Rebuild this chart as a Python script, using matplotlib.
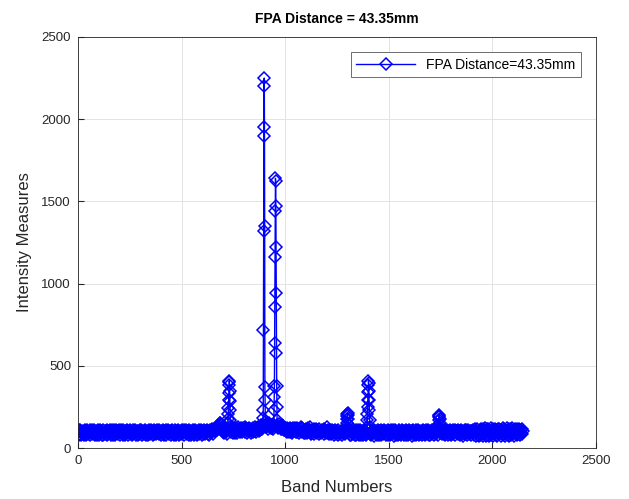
import numpy as np
import matplotlib
matplotlib.use("Agg")
import matplotlib.pyplot as plt

plt.rcParams['font.family'] = ['Liberation Sans', 'DejaVu Sans']

# baseline readings, one every 3 bands from band 0 up
base_step = 3
base_0_645 = [96, 112, 80, 101, 110, 78, 94, 107, 85, 103, 79, 109,
              92, 77, 104, 111, 84, 99, 90, 108, 78, 97, 112, 83,
              102, 88, 113, 93, 80, 106, 100, 82, 110, 77, 96, 111,
              89, 105, 81, 100, 109, 79, 93, 107, 86, 103, 78, 113,
              97, 84, 105, 90, 110, 80, 99, 112, 82, 95, 108, 87,
              77, 111, 92, 104, 83, 106, 113, 79, 96, 109, 89, 101,
              78, 112, 86, 107, 81, 103, 92, 110, 80, 97, 105, 84,
              113, 90, 100, 78, 109, 87, 104, 93, 111, 82, 96, 107,
              77, 105, 89, 112, 84, 99, 109, 80, 93, 103, 86, 113,
              97, 81, 107, 90, 105, 78, 111, 100, 83, 96, 109, 92,
              103, 79, 112, 87, 106, 97, 83, 108, 90, 101, 85, 110,
              94, 79, 106, 99, 88, 112, 81, 102, 95, 108, 77, 104,
              91, 113, 84, 98, 107, 80, 103, 93, 111, 86, 100, 78,
              109, 95, 82, 106, 90, 113, 79, 101, 88, 104, 97, 111,
              83, 99, 108, 77, 105, 92, 110, 85, 96, 102, 80, 112,
              89, 107, 78, 100, 94, 109, 82, 103, 111, 87, 98, 79,
              106, 91, 113, 84, 101, 96, 108, 80, 104, 88, 110, 93,
              99, 83, 107, 95, 112, 86, 102, 78, 109, 97, 105, 114]
base_648_696 = [96, 110, 88, 108, 115, 102, 120, 112, 125, 130, 136, 142,
                150, 154, 138, 120, 110]
base_699_876 = [100, 118, 92, 110, 122, 95, 112, 88, 120, 104, 93, 115,
                124, 97, 108, 121, 90, 113, 101, 119, 94, 123, 107, 91,
                116, 126, 102, 118, 96, 111, 122, 99, 115, 125, 109, 127,
                98, 114, 120, 92, 117, 105, 124, 101, 111, 89, 119, 106,
                123, 95, 113, 128, 103, 117, 99, 121, 110, 126, 104, 118]
base_879_999 = [112, 128, 138, 118, 140, 125, 146, 132, 120, 143, 127, 150,
                133, 119, 147, 155, 131, 124, 142, 122, 136, 115, 128, 112,
                124, 139, 117, 145, 130, 121, 148, 126, 137, 114, 129, 141,
                118, 133, 110, 125, 120]
base_1002_1299 = [118, 104, 124, 100, 117, 96, 112, 122, 98, 116,
                  107, 94, 120, 101, 111, 123, 95, 114, 99, 121,
                  108, 93, 119, 102, 126, 115, 97, 121, 105, 94,
                  112, 90, 103, 118, 91, 106, 120, 98, 110, 130,
                  100, 87, 108, 93, 112, 88, 116, 104, 96, 119,
                  92, 109, 101, 85, 114, 97, 107, 89, 111, 95,
                  103, 118, 86, 99, 110, 91, 105, 128, 94, 113,
                  88, 102, 108, 84, 97, 112, 90, 106, 82, 100,
                  109, 87, 95, 104, 80, 111, 93, 99, 85, 107,
                  96, 82, 103, 90, 110, 86, 98, 105, 81, 94]
base_1302_2148 = [102, 84, 110, 80, 96, 108, 78, 100, 88, 107, 94, 81,
                  103, 112, 77, 98, 86, 109, 82, 101, 113, 79, 95, 106,
                  77, 97, 111, 83, 104, 91, 80, 109, 96, 78, 102, 112,
                  87, 99, 79, 106, 92, 104, 76, 111, 95, 84, 107, 81,
                  98, 110, 78, 101, 89, 113, 80, 96, 105, 85, 110, 92,
                  99, 77, 107, 88, 109, 82, 101, 94, 78, 112, 84, 104,
                  91, 108, 76, 98, 111, 82, 106, 88, 95, 80, 103, 113,
                  85, 99, 78, 109, 91, 102, 81, 107, 96, 77, 112, 87,
                  104, 80, 98, 110, 84, 95, 106, 76, 101, 113, 82, 99,
                  90, 108, 79, 104, 88, 111, 80, 102, 94, 85, 107, 77,
                  98, 112, 83, 104, 91, 78, 109, 96, 86, 111, 79, 100,
                  106, 82, 97, 113, 88, 101, 77, 108, 93, 110, 84, 99,
                  112, 80, 95, 105, 78, 103, 90, 109, 83, 97, 111, 86,
                  100, 79, 107, 94, 113, 81, 98, 104, 87, 110, 77, 102,
                  92, 108, 85, 99, 112, 78, 105, 89, 101, 83, 109, 96,
                  80, 103, 111, 88, 97, 76, 106, 93, 113, 84, 100, 108,
                  79, 95, 110, 86, 102, 91, 107, 77, 104, 98, 112, 82,
                  99, 116, 74, 106, 118, 80, 99, 72, 112, 90, 119, 77,
                  102, 115, 73, 108, 86, 120, 75, 103, 114, 82, 117, 72,
                  106, 94, 121, 78, 110, 74, 116, 88, 104, 118, 80, 112,
                  73, 115, 97, 119, 84, 108, 76, 113, 92, 120, 79, 105,
                  117, 74, 101, 88, 122, 81, 110, 71, 114, 95, 118, 78,
                  107, 121, 85, 99, 73, 116, 90, 112, 77, 119, 83, 104,
                  115, 79, 110, 92, 118, 86, 106]

# peaks: first band and the readings that follow band by band
peak_starts = [723, 892, 945, 1296, 1395, 1739]
peak_values = [
    [150, 175, 205, 245, 290, 335, 385, 410, 400, 350, 285, 230, 170, 130],
    [130, 180, 230, 720, 1320, 1900, 2200, 2250, 1950, 1350, 370, 290, 160, 130],
    [140, 230, 310, 380, 640, 860, 1160, 1440, 1640, 1625, 1470, 1220, 940,
     580, 380, 250, 170, 140],
    [120, 150, 175, 195, 210, 215, 200, 175, 145, 120],
    [130, 170, 210, 250, 295, 340, 385, 410, 395, 345, 290, 230, 170, 130],
    [120, 145, 170, 190, 200, 195, 175, 150, 125, 110],
]

base_vals = np.array(base_0_645 + base_648_696 + base_699_876 + base_879_999
                     + base_1002_1299 + base_1302_2148, dtype=float)
base_bands = np.arange(len(base_vals)) * base_step

keep = np.ones(len(base_bands), dtype=bool)
pb, pv = [], []
for s, vals in zip(peak_starts, peak_values):
    b = s + np.arange(len(vals))
    keep &= ~((base_bands >= b[0]) & (base_bands <= b[-1]))
    pb.extend(b)
    pv.extend(vals)

bands = np.concatenate([base_bands[keep], pb])
inten = np.concatenate([base_vals[keep], pv])
order = np.argsort(bands)
bands, inten = bands[order], inten[order]

fig = plt.figure(figsize=(6.29, 4.99), dpi=100)
ax = fig.add_axes([0.124, 0.102, 0.8235, 0.824])

ax.plot(bands, inten, color='#0000ff', lw=1.0, marker='D', ms=6.4,
        mfc='none', mec='#0000ff', mew=1.1, label='FPA Distance=43.35mm')

ax.set_xlim(0, 2500)
ax.set_ylim(0, 2500)
ax.set_xticks(range(0, 2501, 500))
ax.set_yticks(range(0, 2501, 500))
ax.grid(True, color='#e3e3e3', lw=0.7)
ax.set_axisbelow(True)
ax.tick_params(direction='in', length=4, colors='#262626', labelsize=9.5,
               pad=5)
for sp in ax.spines.values():
    sp.set_color('#262626')
    sp.set_linewidth(0.6)

ax.set_title('FPA Distance = 43.35mm', fontsize=10, fontweight='bold', pad=10)
ax.set_xlabel('Band Numbers', fontsize=12, color='#262626', labelpad=9)
ax.set_ylabel('Intensity Measures', fontsize=12, color='#262626', labelpad=7)

leg = ax.legend(loc='upper right', fontsize=10, handlelength=4.2,
                fancybox=False, framealpha=1, edgecolor='#555555',
                borderaxespad=1.1)
leg.get_frame().set_linewidth(0.6)

fig.savefig('out.png', dpi=100)
